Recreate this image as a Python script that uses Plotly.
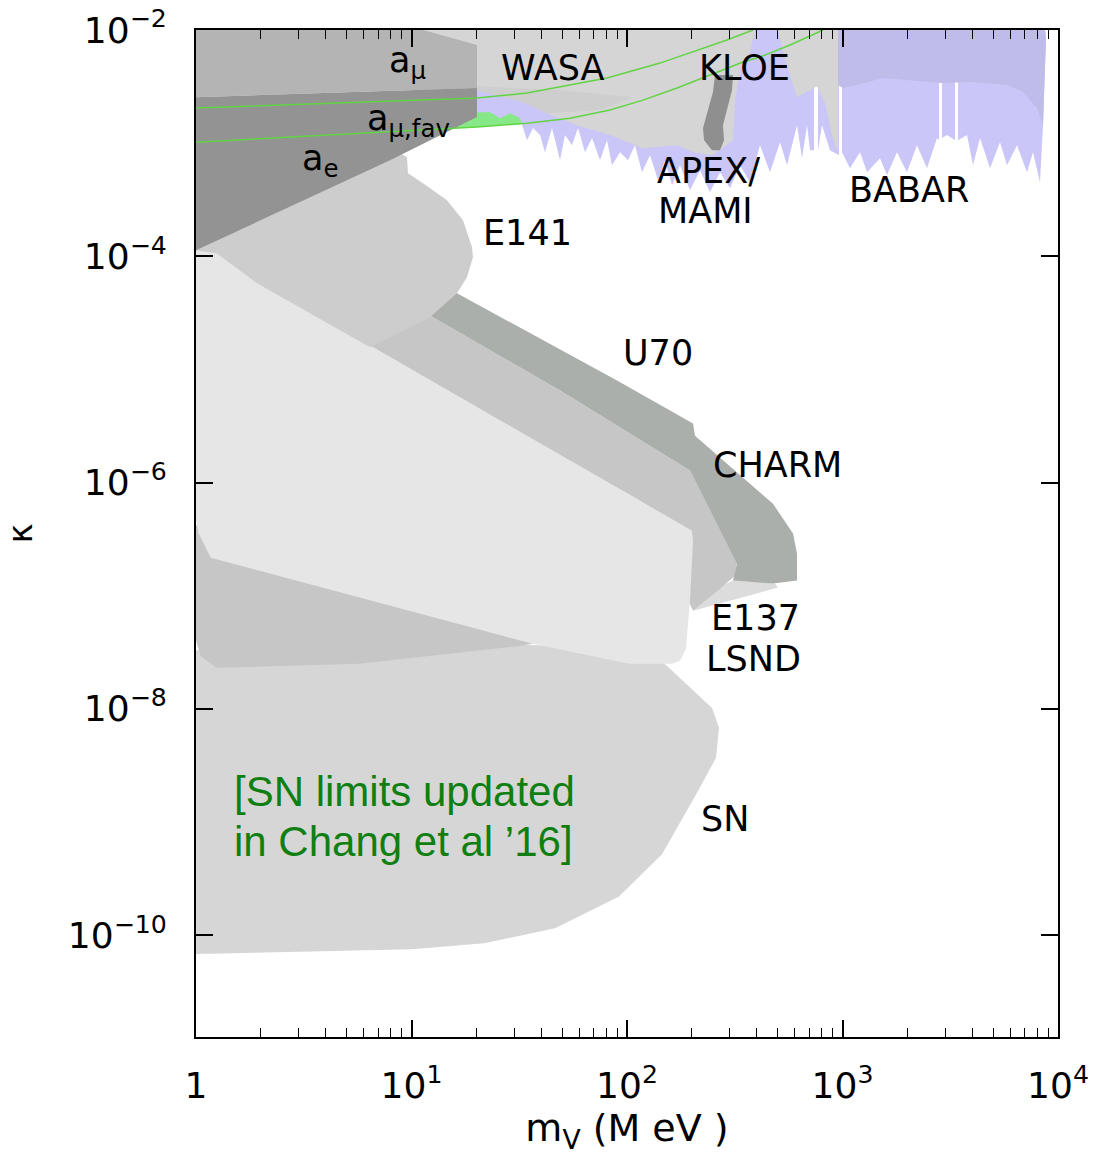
import numpy as np
import plotly.graph_objects as go

# ---------------------------------------------------------------
# Dark-photon exclusion regions in the (m_V [MeV], kappa) plane.
# Each region is a closed outline: masses in MeV, mixing kappa.
# ---------------------------------------------------------------

# favoured (g-2)_mu band: upper and lower boundaries
amu_fav_upper_m = [1.0, 20.13, 34.36, 80.77, 142.3, 202.5, 291.1, 384.3]
amu_fav_upper_k = [2.04e-3, 2.50e-3, 2.77e-3, 3.76e-3, 5.10e-3, 6.39e-3, 8.15e-3, 1.0e-2]
amu_fav_lower_m = [1.0, 20.13, 34.36, 54.39, 83.40, 118.7, 170.6, 242.7, 345.4, 414.1, 570.8, 812.1]
amu_fav_lower_k = [1.02e-3, 1.39e-3, 1.50e-3, 1.66e-3, 1.96e-3, 2.40e-3, 3.07e-3, 4.00e-3,
                   5.21e-3, 5.77e-3, 7.37e-3, 1.0e-2]

# BaBar (light part, with resonance gaps)
babar_m = [20.13, 392.6, 8704, 8798, 8520, 8250,
           7656, 7180, 6452, 5798, 5382, 4836, 4345, 4033, 3783,
           3436, 3436, 3327, 3327, 3054, 2895, 2895, 2804, 2804, 2745,
           2467, 2216, 1992, 1790, 1609, 1493, 1300, 1206, 1083,
           994.7, 994.7, 963.3, 963.3, 874.9, 803.5, 769.6, 769.6, 737.6, 737.6,
           729.8, 706.8, 684.6, 649.0, 615.2, 552.8, 512.9, 460.9, 414.1,
           372.2, 334.5, 300.6, 270.2, 242.7, 218.2, 196.0, 176.2, 161.8,
           150.1, 139.3, 127.9, 117.4, 108.9, 101.1, 92.80, 85.20, 80.77,
           74.95, 68.81, 63.85, 59.24, 55.56, 51.57, 48.88, 44.87, 41.64,
           39.48, 36.63, 34.36, 31.88, 28.65, 25.75, 23.13, 20.13]
babar_k = [3.61e-3, 1.0e-2, 1.0e-2, 8.49e-3, 1.44e-3, 4.52e-4,
           8.32e-4, 5.54e-4, 9.60e-4, 6.39e-4, 1.02e-3, 6.01e-4, 1.11e-3, 6.39e-4, 1.18e-3,
           1.06e-3, 4.00e-3, 4.00e-3, 1.06e-3, 1.18e-3, 1.11e-3, 4.00e-3, 4.00e-3, 1.06e-3, 1.11e-3,
           6.01e-4, 9.60e-4, 5.54e-4, 8.32e-4, 5.21e-4, 7.37e-4, 5.54e-4, 8.32e-4, 6.01e-4,
           8.32e-4, 4.00e-3, 4.00e-3, 7.83e-4, 8.67e-4, 1.44e-3, 8.67e-4, 3.19e-3, 3.19e-3, 8.67e-4,
           8.67e-4, 8.67e-4, 1.44e-3, 7.37e-4, 1.44e-3, 6.39e-4, 1.02e-3, 5.54e-4, 9.60e-4,
           4.52e-4, 6.39e-4, 4.00e-4, 5.54e-4, 3.68e-4, 5.77e-4, 3.84e-4, 6.39e-4, 4.25e-4,
           7.07e-4, 4.71e-4, 7.83e-4, 5.54e-4, 9.60e-4, 7.07e-4, 8.32e-4, 6.39e-4, 1.06e-3,
           7.07e-4, 1.11e-3, 8.32e-4, 1.36e-3, 9.60e-4, 1.18e-3, 7.07e-4, 1.36e-3, 8.32e-4,
           1.18e-3, 1.36e-3, 1.06e-3, 1.66e-3, 1.84e-3, 1.66e-3, 1.88e-3, 1.88e-3]

# BaBar (overlapping upper part)
babar_top_m = [953.1, 8704, 8798, 8520, 7990, 6880, 5798, 4033, 2835, 1992, 1541, 1168, 1005, 953.1]
babar_top_k = [1.0e-2, 1.0e-2, 8.49e-3, 1.44e-3, 2.04e-3, 2.83e-3, 3.26e-3, 3.47e-3,
               3.40e-3, 3.61e-3, 3.76e-3, 3.26e-3, 3.07e-3, 3.26e-3]

# WASA
wasa_m = [10.95, 392.6, 364.3, 334.5, 317.1, 310.4, 250.6, 202.5, 170.6, 118.7,
          83.40, 58.61, 42.55, 34.36, 20.13, 10.95]
wasa_k = [1.0e-2, 1.0e-2, 5.43e-3, 4.43e-3, 2.40e-3, 1.06e-3, 7.83e-4, 8.32e-4, 9.60e-4, 9.03e-4,
          1.18e-3, 1.44e-3, 1.84e-3, 2.26e-3, 2.94e-3, 2.94e-3]
wasa_inner_m = [20.13, 48.88, 106.6, 74.95, 42.55, 31.88, 20.13]
wasa_inner_k = [3.19e-3, 2.94e-3, 2.55e-3, 1.96e-3, 1.84e-3, 2.35e-3, 2.94e-3]

# KLOE
kloe_m = [502.1, 953.1, 953.1, 894.3, 829.6, 761.7, 706.8, 615.2, 558.6]
kloe_k = [1.0e-2, 1.0e-2, 8.32e-4, 1.18e-3, 2.26e-3, 3.19e-3, 2.94e-3, 2.55e-3, 4.43e-3]
kloe_blob_m = [256.1, 310.4, 307.0, 291.1, 278.9, 281.9, 270.2, 248.0, 227.8, 225.3, 237.6, 250.6]
kloe_blob_k = [4.00e-3, 4.00e-3, 2.94e-3, 1.96e-3, 1.44e-3, 1.06e-3, 8.67e-4, 8.67e-4,
               1.06e-3, 1.36e-3, 1.96e-3, 2.83e-3]

# supernova cooling
sn_m = [1.0, 8.85, 48.9, 134.9, 156.6, 204.6, 248.0, 267.3, 258.8, 213.6, 145.4, 91.8,
        46.4, 21.7, 10.05, 1.0]
sn_k = [3.3e-8, 4.0e-8, 3.6e-8, 2.94e-8, 2.31e-8, 1.44e-8, 1.02e-8, 6.8e-9, 3.7e-9, 1.88e-9,
        5.2e-10, 2.2e-10, 1.15e-10, 8.5e-11, 7.5e-11, 6.8e-11]

# LSND
lsnd_m = [1.0, 8.85, 36.6, 31.5, 5.71, 1.24, 1.05, 1.0]
lsnd_k = [4.2e-7, 1.1e-7, 3.76e-8, 3.6e-8, 2.5e-8, 2.31e-8, 2.94e-8, 4.0e-8]

# E137
e137_m = [1.0, 1.25, 1.92, 6.42, 114.9, 200.3, 202.5, 196.0, 187.8, 176.2, 161.8, 102.2,
          36.6, 1.17, 1.03, 1.0]
e137_k = [1.39e-4, 1.13e-4, 6.13e-5, 1.63e-5, 6.93e-7, 3.76e-7, 3.07e-7, 9.03e-8, 3.40e-8,
          2.66e-8, 2.50e-8, 2.50e-8, 3.76e-8, 2.17e-7, 3.54e-7, 4.61e-7]
e137_tail_m = [196.0, 310.4, 486.2, 502.1, 202.5]
e137_tail_k = [9.03e-8, 1.36e-7, 1.28e-7, 1.18e-7, 7.37e-8]

# U70
u70_m = [3.04, 12.18, 48.9, 196.0, 323.9, 317.1, 264.4, 202.5, 114.9, 6.42, 3.04]
u70_k = [5.0e-5, 3.0e-5, 6.5e-6, 1.28e-6, 1.96e-7, 1.5e-7, 1.11e-7, 7.4e-8, 6.9e-7, 1.57e-5, 3.33e-5]

# CHARM
charm_m = [8.85, 16.26, 89.9, 202.5, 206.8, 475.9, 589.4, 615.2, 615.2, 475.9, 310.4, 323.9,
           196.0, 48.9, 12.18, 7.14]
charm_k = [1.02e-4, 4.71e-5, 8.0e-6, 3.33e-6, 2.6e-6, 6.5e-7, 3.54e-7, 2.35e-7, 1.36e-7,
           1.28e-7, 1.36e-7, 1.92e-7, 1.28e-6, 6.5e-6, 3.0e-5, 5.0e-5]

# E141
e141_m = [1.0, 7.14, 8.38, 9.53, 9.63, 11.31, 14.61, 17.34, 19.09, 19.29, 18.09, 16.26,
          12.18, 6.42, 1.92, 1.25, 1.0]
e141_k = [4.71e-4, 9.03e-4, 8.67e-4, 7.52e-4, 5.43e-4, 4.43e-4, 3.13e-4, 2.08e-4, 1.20e-4,
          9.80e-5, 6.52e-5, 4.71e-5, 2.89e-5, 1.57e-5, 5.77e-5, 1.06e-4, 1.13e-4]

# electron and muon anomalous magnetic moments
amu_m = [1.0, 11.31, 20.13, 20.13, 1.0]
amu_k = [1.0e-2, 1.0e-2, 7.37e-3, 3.07e-3, 2.55e-3]
ae_m = [1.0, 20.13, 20.13, 14.93, 7.95, 1.0]
ae_k = [2.55e-3, 3.07e-3, 1.70e-3, 1.28e-3, 7.07e-4, 1.13e-4]

# region labels: (text, mass, kappa, anchor)
labels = [
    ("a<sub>μ</sub>", 7.70, 5.21e-3, "left"),
    ("WASA", 45.4, 4.61e-3, "center"),
    ("KLOE", 352.8, 4.61e-3, "center"),
    ("a<sub>μ,fav</sub>", 6.08, 1.60e-3, "left"),
    ("a<sub>e</sub>", 3.04, 7.08e-4, "left"),
    ("APEX/", 134.9, 5.65e-4, "left"),
    ("MAMI", 136.3, 2.50e-4, "left"),
    ("BABAR", 2035, 3.84e-4, "center"),
    ("E141", 21.0, 1.60e-4, "left"),
    ("U70", 93.8, 1.39e-5, "left"),
    ("CHARM", 245.3, 1.44e-6, "left"),
    ("E137", 240.2, 6.38e-8, "left"),
    ("LSND", 227.8, 2.77e-8, "left"),
    ("SN", 215.8, 1.06e-9, "left"),
]
note_lines = [
    ("[SN limits updated", 1.47, 1.88e-9),
    ("in Chang et al ’16]", 1.47, 6.79e-10),
]

x_tickvals = [1, 10, 100, 1000, 10000]
x_ticktext = ["1", "10<sup>1</sup>", "10<sup>2</sup>", "10<sup>3</sup>", "10<sup>4</sup>"]
y_tickvals = [1e-10, 1e-8, 1e-6, 1e-4, 1e-2]
y_ticktext = ["10<sup>−10</sup>", "10<sup>−8</sup>", "10<sup>−6</sup>", "10<sup>−4</sup>", "10<sup>−2</sup>"]

FONT = "DejaVu Sans"

fig = go.Figure()


def region(m, k, color):
    fig.add_trace(go.Scatter(
        x=m, y=k, mode="lines", fill="toself", fillcolor=color,
        line=dict(width=0, color=color), hoverinfo="skip", showlegend=False))


# favoured band fill (mostly hidden by the exclusions drawn over it)
region(amu_fav_upper_m + amu_fav_lower_m[::-1], amu_fav_upper_k + amu_fav_lower_k[::-1], "#86e886")

region(babar_m, babar_k, "#cac6f8")
region(babar_top_m, babar_top_k, "#c0bce9")
region(wasa_m, wasa_k, "#d5d5d5")
region(wasa_inner_m, wasa_inner_k, "#cecece")
region(kloe_m, kloe_k, "#d5d5d5")
region(kloe_blob_m, kloe_blob_k, "#8f8f8f")

region(sn_m, sn_k, "#d6d6d6")
region(lsnd_m, lsnd_k, "#c6c6c6")
region(e137_tail_m, e137_tail_k, "#dcdcdc")
region(u70_m, u70_k, "#c6c6c6")
region(e137_m, e137_k, "#e6e6e6")
region(charm_m, charm_k, "#abafab")
region(e141_m, e141_k, "#cdcdcd")

region(amu_m, amu_k, "#b4b4b4")
region(ae_m, ae_k, "#939393")

# boundaries of the favoured band
for m, k in ((amu_fav_upper_m, amu_fav_upper_k), (amu_fav_lower_m, amu_fav_lower_k)):
    fig.add_trace(go.Scatter(x=m, y=k, mode="lines", line=dict(color="#62d444", width=1.5),
                             hoverinfo="skip", showlegend=False))

for text, m, k, anchor in labels:
    fig.add_annotation(x=np.log10(m), y=np.log10(k), xref="x", yref="y", text=text,
                       showarrow=False, xanchor=anchor, yanchor="middle",
                       font=dict(family=FONT, size=35, color="black"))

for text, m, k in note_lines:
    fig.add_annotation(x=np.log10(m), y=np.log10(k), xref="x", yref="y", text=text,
                       showarrow=False, xanchor="left", yanchor="middle",
                       font=dict(family="Liberation Sans, Arial", size=42, color="#0f7f12"))

minor_x = [d * 10 ** e for e in range(4) for d in range(2, 10)]

axis_common = dict(
    showline=True, linecolor="black", linewidth=2, mirror="allticks",
    ticks="inside", ticklen=17, tickwidth=1.5, tickcolor="black",
    showgrid=False, zeroline=False,
    tickfont=dict(family=FONT, size=36, color="black"),
)

fig.update_xaxes(
    type="log", range=[0, 4], tickmode="array", tickvals=x_tickvals, ticktext=x_ticktext,
    minor=dict(tickmode="array", tickvals=minor_x, ticks="inside", ticklen=9, tickwidth=1.2,
               tickcolor="black", showgrid=False),
    ticklabelstandoff=16,
    title=dict(text="m<sub>V</sub> (M eV )", font=dict(family=FONT, size=38, color="black"),
               standoff=8),
    **axis_common)

fig.update_yaxes(
    type="log", range=[-10.90, -2], tickmode="array", tickvals=y_tickvals, ticktext=y_ticktext,
    ticklabelstandoff=20,
    title=dict(text="κ", font=dict(family=FONT, size=34, color="black"), standoff=40),
    **axis_common)

fig.update_layout(
    width=1104, height=1167,
    margin=dict(l=196, r=46, t=30, b=130, autoexpand=False),
    plot_bgcolor="white", paper_bgcolor="white",
    showlegend=False,
)

fig.write_html("out.html")
